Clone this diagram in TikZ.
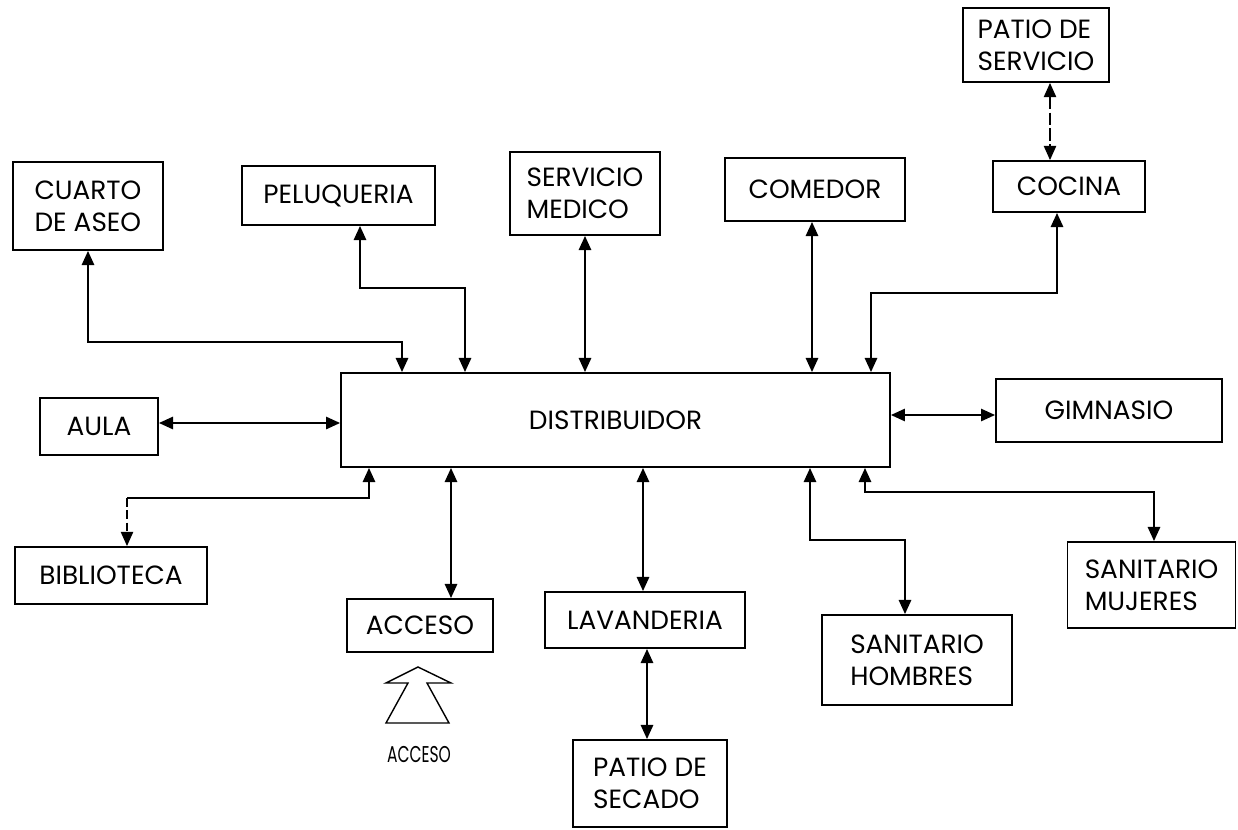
\documentclass[tikz,border=0pt]{standalone}
\usepackage{fontspec}
\setmainfont{Poppins}
\newfontfamily\narrowfont[FakeStretch=0.68]{Poppins}
\usetikzlibrary{arrows.meta}

\begin{document}
\begin{tikzpicture}[x=0.02cm, y=-0.02cm,
  every node/.style={font=\fontsize{15}{18}\selectfont},
  room/.style={draw, line width=1.1pt, align=left, inner sep=0pt},
  >={Triangle[length=8pt,width=7pt]},
  link/.style={line width=1.1pt, <->},
  thinlink/.style={line width=0.6pt}]
  \useasboundingbox (0,0) rectangle (1238,829);
  % Rooms
  \node[room, minimum width=3cm,    minimum height=1.76cm] (cuarto)     at (88,206)    {CUARTO\\DE ASEO};
  \node[room, minimum width=3.86cm, minimum height=1.18cm] (pelu)       at (338.5,195.5) {PELUQUERIA};
  \node[room, minimum width=3cm,    minimum height=1.66cm] (servicio)   at (585,193.5) {SERVICIO\\MEDICO};
  \node[room, minimum width=3.6cm,  minimum height=1.26cm] (comedor)    at (815,189.5) {COMEDOR};
  \node[room, minimum width=2.92cm, minimum height=1.48cm] (patioserv)  at (1036,45)   {PATIO DE\\SERVICIO};
  \node[room, minimum width=3.04cm, minimum height=1.02cm] (cocina)     at (1069,186.5) {COCINA};
  \node[room, minimum width=2.36cm, minimum height=1.14cm] (aula)       at (99,426.5)  {AULA};
  \node[room, minimum width=10.98cm,minimum height=1.88cm] (dist)       at (615.5,420) {DISTRIBUIDOR};
  \node[room, minimum width=4.52cm, minimum height=1.26cm] (gimnasio)   at (1109,410.5) {GIMNASIO};
  \node[room, minimum width=3.84cm, minimum height=1.14cm] (biblio)     at (111,575.5) {BIBLIOTECA};
  \node[room, minimum width=2.92cm, minimum height=1.06cm] (acceso)     at (420,625.5) {ACCESO};
  \node[room, minimum width=4cm,    minimum height=1.12cm] (lavanderia) at (645,620)   {LAVANDERIA};
  \node[room, minimum width=3.08cm, minimum height=1.74cm] (patiosec)   at (650,783.5) {PATIO DE\\SECADO};
  \node[room, minimum width=3.8cm,  minimum height=1.8cm]  (hombres)    at (917,660)   {SANITARIO\\HOMBRES};
  \node[room, minimum width=3.36cm, minimum height=1.72cm] (mujeres)    at (1151.5,585) {SANITARIO\\MUJERES};
  % Upper links
  \draw[link] (cuarto.south) |- (402,342) -- (402,0 |- dist.north);
  \draw[link] (360,0 |- pelu.south) |- (465,288) -- (465,0 |- dist.north);
  \draw[link] (servicio.south) -- (servicio.south |- dist.north);
  \draw[link] (812,0 |- comedor.south) -- (812,0 |- dist.north);
  \draw[link] (1057,0 |- cocina.south) |- (871,293) -- (871,0 |- dist.north);
  \draw[thinlink, <->, dash pattern=on 7pt off 2pt] (1050,0 |- patioserv.south) -- (1050,0 |- cocina.north);
  % Side links
  \draw[link] (aula.east |- 0,423) -- (dist.west |- 0,423);
  \draw[link] (dist.east |- 0,415) -- (gimnasio.west |- 0,415);
  % Lower links
  \draw[line width=1.1pt, <-] (369,0 |- dist.south) |- (127,498) coordinate (bibbend);
  \draw[thinlink, ->, dash pattern=on 5pt off 2pt] (bibbend) -- (127,0 |- biblio.north);
  \draw[link] (451,0 |- dist.south) -- (451,0 |- acceso.north);
  \draw[link] (643,0 |- dist.south) -- (643,0 |- lavanderia.north);
  \draw[link] (647,0 |- lavanderia.south) -- (647,0 |- patiosec.north);
  \draw[link] (810,0 |- dist.south) |- (905,540) -- (905,0 |- hombres.north);
  \draw[link] (865,0 |- dist.south) |- (1154,492) -- (1154,0 |- mujeres.north);
  % Entrance arrow
  \draw[line width=0.8pt] (418,667) -- (386,683) -- (408,683) -- (386,723) -- (449,723)
    -- (427,683) -- (451,683) -- cycle;
  \node[font=\narrowfont\fontsize{13}{15}\selectfont] (accesolbl) at (419,755) {ACCESO};
\end{tikzpicture}
\end{document}
